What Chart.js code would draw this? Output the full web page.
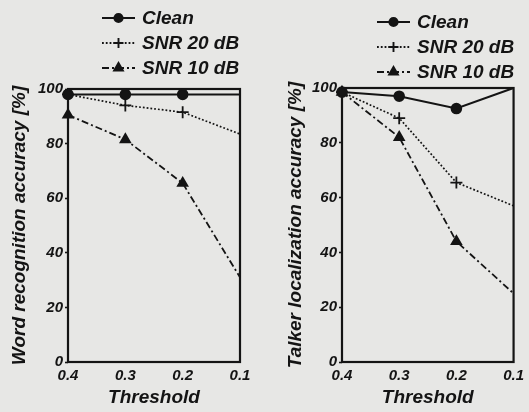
<!DOCTYPE html>
<html>
<head>
<meta charset="utf-8">
<script src="https://cdn.jsdelivr.net/npm/chart.js@4/dist/chart.umd.min.js"></script>
<style>
  html, body { margin: 0; padding: 0; background: #e7e7e5; }
  .wrap { position: relative; width: 529px; height: 412px; overflow: hidden; }
  .box { position: absolute; top: 0; height: 412px; }
  #left { left: 0; width: 265px; }
  #right { left: 265px; width: 264px; }
</style>
</head>
<body>
<div class="wrap">
  <div class="box" id="left"><canvas id="wordChart" width="265" height="412"></canvas></div>
  <div class="box" id="right"><canvas id="talkerChart" width="264" height="412"></canvas></div>
</div>
<script>
const thresholds = ['0.4', '0.3', '0.2', '0.1'];
const seriesNames = ['Clean', 'SNR 20 dB', 'SNR 10 dB'];

// Word recognition accuracy [%]
const wordClean = [98, 98, 98, 98];
const wordSnr20 = [98, 94, 91.5, 83.5];
const wordSnr10 = [90.5, 81.5, 65.5, 31];

// Talker localization accuracy [%]
const talkerClean = [98.5, 97, 92.5, 100];
const talkerSnr20 = [98.5, 89, 65.5, 57];
const talkerSnr10 = [98.5, 82, 44, 25];

const INK = '#141414';
const FONT = '"Liberation Sans", Arial, Helvetica, sans-serif';

// box round the plot area, drawn under the lines
const framePlugin = {
  id: 'frame',
  beforeDatasetsDraw(chart) {
    const { ctx, chartArea: a } = chart;
    ctx.save();
    ctx.strokeStyle = INK;
    ctx.lineWidth = 2.2;
    ctx.strokeRect(a.left, a.top, a.right - a.left, a.bottom - a.top);
    ctx.restore();
  }
};

// legend: line sample with the marker in the middle, then the name
const sampleLegend = {
  id: 'sampleLegend',
  afterDraw(chart, args, opts) {
    const { ctx, chartArea } = chart;
    const x0 = chartArea.left + opts.dx;
    const len = 33;
    ctx.save();
    chart.data.datasets.forEach((ds, i) => {
      const y = opts.y0 + i * opts.gap;
      ctx.strokeStyle = INK;
      ctx.lineWidth = ds.borderWidth + 0.2;
      ctx.setLineDash(ds.borderDash || []);
      ctx.beginPath();
      ctx.moveTo(x0, y);
      ctx.lineTo(x0 + len, y);
      ctx.stroke();
      ctx.setLineDash([]);
      ctx.fillStyle = INK;
      Chart.helpers.drawPoint(ctx, {
        pointStyle: ds.pointStyle,
        radius: ds.legendRadius,
        rotation: 0,
        borderWidth: 1.6
      }, x0 + len / 2, y);
      ctx.font = 'italic bold 19px ' + FONT;
      ctx.textBaseline = 'middle';
      ctx.textAlign = 'left';
      ctx.fillText(seriesNames[i], x0 + len + 7, y + 1);
    });
    ctx.restore();
  }
};

function makeDatasets(clean, snr20, snr10) {
  const common = {
    borderColor: INK,
    backgroundColor: INK,
    pointBorderColor: INK,
    pointBackgroundColor: INK,
    fill: false,
    tension: 0,
    clip: false
  };
  return [
    Object.assign({}, common, {
      label: seriesNames[0], data: clean,
      borderWidth: 2, pointStyle: 'circle',
      pointRadius: [4.8, 4.8, 4.8, 0], legendRadius: 4
    }),
    Object.assign({}, common, {
      label: seriesNames[1], data: snr20,
      borderWidth: 1.7, borderDash: [1.8, 2], pointStyle: 'cross',
      pointRadius: [6, 6, 6, 0], pointBorderWidth: 1.8, legendRadius: 5
    }),
    Object.assign({}, common, {
      label: seriesNames[2], data: snr10,
      borderWidth: 1.8, borderDash: [7, 3, 2, 3], pointStyle: 'triangle',
      pointRadius: [5.5, 5.5, 5.5, 0], legendRadius: 5
    })
  ];
}

function makeChart(id, yTitle, datasets, lay) {
  const tickFont = { family: FONT, size: 15, weight: 'bold', style: 'italic' };
  const titleFont = { family: FONT, size: 19, weight: 'bold', style: 'italic' };
  return new Chart(document.getElementById(id), {
    type: 'line',
    data: { labels: thresholds, datasets: datasets },
    options: {
      responsive: false,
      animation: false,
      events: [],
      layout: { padding: { top: lay.top, right: lay.right, left: 0, bottom: 0 } },
      plugins: {
        legend: { display: false },
        tooltip: { enabled: false },
        sampleLegend: { dx: lay.legendDx, y0: lay.legendY, gap: 25 }
      },
      scales: {
        x: {
          type: 'category',
          offset: false,
          grid: { display: false, drawTicks: false },
          border: { display: false },
          ticks: { color: INK, font: tickFont, padding: 5, maxRotation: 0, autoSkip: false },
          title: { display: true, text: 'Threshold', color: INK, font: titleFont, padding: { top: 0, bottom: 3 } },
          afterFit: s => { s.height = 50; }
        },
        y: {
          min: 0,
          max: 100,
          grid: { display: true, drawOnChartArea: false, drawTicks: true, tickLength: 3, tickColor: INK, tickWidth: 1.6 },
          border: { display: false },
          ticks: { stepSize: 20, color: INK, font: tickFont, padding: 2 },
          title: { display: true, text: yTitle, color: INK, font: titleFont, padding: { top: lay.titlePad, bottom: 0 } },
          afterFit: s => { s.width = lay.yWidth; }
        }
      }
    },
    plugins: [framePlugin, sampleLegend]
  });
}

makeChart('wordChart', 'Word recognition accuracy [%]',
  makeDatasets(wordClean, wordSnr20, wordSnr10),
  { top: 89, right: 25, yWidth: 68, titlePad: 8, legendDx: 34, legendY: 18 });

makeChart('talkerChart', 'Talker localization accuracy [%]',
  makeDatasets(talkerClean, talkerSnr20, talkerSnr10),
  { top: 88, right: 15, yWidth: 77, titlePad: 19, legendDx: 35, legendY: 22 });
</script>
</body>
</html>
